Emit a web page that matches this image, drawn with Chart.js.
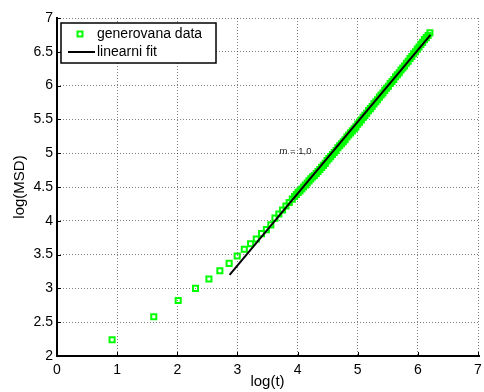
<!DOCTYPE html>
<html><head><meta charset="utf-8">
<script src="https://cdn.jsdelivr.net/npm/chart.js@4"></script>
<style>html,body{margin:0;padding:0;background:#fff;overflow:hidden}#wrap{width:484px;height:392px;position:relative}</style>
</head><body><div id="wrap"><canvas id="c" width="484" height="392"></canvas></div>
<script>
// ---- data ----
const logT = [0.916, 1.609, 2.015, 2.303, 2.526, 2.708, 2.862, 2.996, 3.114, 3.219,
  3.314, 3.401, 3.481, 3.555, 3.624, 3.689, 3.750, 3.807, 3.861, 3.912,
  3.95, 3.98, 4.01, 4.04, 4.07, 4.10, 4.13, 4.16, 4.19, 4.22,
  4.25, 4.28, 4.31, 4.34, 4.37, 4.40, 4.43, 4.46, 4.49, 4.52,
  4.55, 4.58, 4.61, 4.64, 4.67, 4.70, 4.73, 4.76, 4.79, 4.82,
  4.85, 4.88, 4.91, 4.94, 4.97, 5.00, 5.03, 5.06, 5.09, 5.12,
  5.15, 5.18, 5.21, 5.24, 5.27, 5.30, 5.33, 5.36, 5.39, 5.42,
  5.45, 5.48, 5.51, 5.54, 5.57, 5.60, 5.63, 5.66, 5.69, 5.72,
  5.75, 5.78, 5.81, 5.84, 5.87, 5.90, 5.93, 5.96, 5.99, 6.02,
  6.05, 6.08, 6.11, 6.14, 6.17, 6.20];
const logMSD = [2.24, 2.58, 2.82, 3.00, 3.14, 3.26, 3.37, 3.48, 3.58, 3.66,
  3.73, 3.81, 3.87, 3.94, 4.04, 4.10, 4.16, 4.22, 4.27, 4.32,
  4.36, 4.39, 4.42, 4.44, 4.47, 4.50, 4.53, 4.56, 4.59, 4.62,
  4.65, 4.67, 4.70, 4.73, 4.76, 4.79, 4.82, 4.85, 4.89, 4.92,
  4.95, 4.98, 5.01, 5.04, 5.08, 5.11, 5.14, 5.17, 5.20, 5.24,
  5.27, 5.30, 5.33, 5.36, 5.39, 5.43, 5.46, 5.49, 5.53, 5.56,
  5.59, 5.63, 5.66, 5.69, 5.73, 5.76, 5.79, 5.83, 5.86, 5.89,
  5.93, 5.96, 5.99, 6.03, 6.06, 6.09, 6.13, 6.16, 6.19, 6.23,
  6.26, 6.29, 6.33, 6.36, 6.40, 6.43, 6.47, 6.50, 6.54, 6.57,
  6.61, 6.64, 6.68, 6.71, 6.74, 6.78];
const fitX = [2.87, 6.21];
const fitY = [3.20, 6.75];
const xTicks = [0, 1, 2, 3, 4, 5, 6, 7];
const yTicks = [2, 2.5, 3, 3.5, 4, 4.5, 5, 5.5, 6, 6.5, 7];
const seriesNames = ['generovana data', 'linearni fit'];
const xTitle = 'log(t)';
const yTitle = 'log(MSD)';
const slopeLabel = 'm = 1,0';
const slopeLabelAt = [3.70, 5.03];

// ---- chart ----
const FONT = '"Liberation Sans", Arial, Helvetica, sans-serif';
const GREEN = '#00ff00';
const zip = (xs, ys) => xs.map((v, i) => ({x: v, y: ys[i]}));

const decorPlugin = {
  id: 'decor',
  afterDraw(chart) {
    const {ctx, chartArea: a, scales: {x, y}} = chart;
    ctx.save();
    // inward tick marks
    ctx.strokeStyle = '#000';
    ctx.lineWidth = 1;
    xTicks.forEach(v => {
      const px = Math.round(x.getPixelForValue(v)) + 0.5;
      ctx.beginPath(); ctx.moveTo(px, a.bottom); ctx.lineTo(px, a.bottom - 4); ctx.stroke();
    });
    yTicks.forEach(v => {
      const py = Math.round(y.getPixelForValue(v)) + 0.5;
      ctx.beginPath(); ctx.moveTo(a.left, py); ctx.lineTo(a.left + 4, py); ctx.stroke();
    });
    // axis lines
    ctx.lineWidth = 2;
    ctx.beginPath();
    ctx.moveTo(a.left, a.top - 1);
    ctx.lineTo(a.left, a.bottom);
    ctx.lineTo(a.right + 2, a.bottom);
    ctx.stroke();
    // slope annotation
    ctx.fillStyle = '#222';
    ctx.font = '9.5px ' + FONT;
    ctx.textBaseline = 'middle';
    ctx.textAlign = 'left';
    ctx.fillText(slopeLabel, x.getPixelForValue(slopeLabelAt[0]), y.getPixelForValue(slopeLabelAt[1]));
    // legend
    const lx = a.left + 4, ly = a.top + 5, lw = 155, lh = 40;
    ctx.fillStyle = '#fff';
    ctx.fillRect(lx, ly, lw, lh);
    ctx.strokeStyle = '#000';
    ctx.lineWidth = 1.5;
    ctx.strokeRect(lx, ly, lw, lh);
    ctx.strokeStyle = GREEN;
    ctx.lineWidth = 2;
    ctx.strokeRect(lx + 16.5, ly + 8.5, 5, 5);
    ctx.strokeStyle = '#000';
    ctx.lineWidth = 2;
    ctx.beginPath(); ctx.moveTo(lx + 7, ly + 29); ctx.lineTo(lx + 34, ly + 29); ctx.stroke();
    ctx.fillStyle = '#000';
    ctx.font = '14px ' + FONT;
    ctx.fillText(seriesNames[0], lx + 36, ly + 11.5);
    ctx.fillText(seriesNames[1], lx + 36, ly + 29);
    ctx.restore();
  }
};

const zeroPad = s => { s.paddingLeft = 0; s.paddingRight = 0; s.paddingTop = 0; s.paddingBottom = 0; };

new Chart(document.getElementById('c'), {
  type: 'scatter',
  data: {
    datasets: [
      {
        label: seriesNames[0],
        data: zip(logT, logMSD),
        pointStyle: 'rect',
        pointRadius: 3.6,
        pointBorderWidth: 2,
        borderColor: GREEN,
        pointBorderColor: GREEN,
        backgroundColor: 'rgba(0,0,0,0)',
        pointBackgroundColor: 'rgba(0,0,0,0)',
        order: 1
      },
      {
        label: seriesNames[1],
        data: zip(fitX, fitY),
        showLine: true,
        borderColor: '#000',
        borderWidth: 2,
        pointRadius: 0,
        order: 0
      }
    ]
  },
  options: {
    responsive: false,
    animation: false,
    events: [],
    layout: {padding: {top: 18, left: 0, right: 0, bottom: 0}},
    plugins: {legend: {display: false}, tooltip: {enabled: false}},
    scales: {
      x: {
        type: 'linear', min: 0, max: 7,
        afterBuildTicks: s => { s.ticks = xTicks.map(v => ({value: v})); },
        afterFit: s => { s.height = 36; zeroPad(s); },
        grid: {color: 'rgba(0,0,0,0.5)', lineWidth: 1, drawTicks: false, borderDash: [1, 2]},
        border: {display: false, dash: [1, 2]},
        ticks: {color: '#000', font: {family: FONT, size: 14}, padding: 6, maxRotation: 0, autoSkip: false,
          callback: v => String(v)},
        title: {display: true, text: xTitle, color: '#000', font: {family: FONT, size: 15}, padding: {top: 0, bottom: 1}}
      },
      y: {
        type: 'linear', min: 2, max: 7,
        afterBuildTicks: s => { s.ticks = yTicks.map(v => ({value: v})); },
        afterFit: s => { s.width = 57; zeroPad(s); },
        grid: {color: 'rgba(0,0,0,0.5)', lineWidth: 1, drawTicks: false, borderDash: [1, 2]},
        border: {display: false, dash: [1, 2]},
        ticks: {color: '#000', font: {family: FONT, size: 14}, padding: 4, autoSkip: false,
          callback: v => String(v)},
        title: {display: true, text: yTitle, color: '#000', font: {family: FONT, size: 15}, padding: {top: 11, bottom: 0}}
      }
    }
  },
  plugins: [decorPlugin]
});
</script>
</body></html>
